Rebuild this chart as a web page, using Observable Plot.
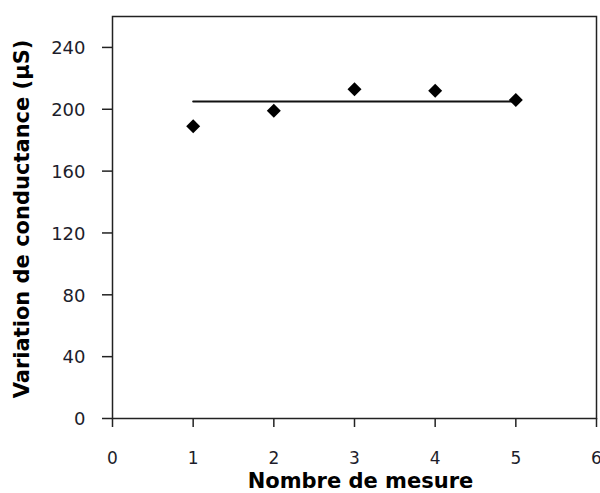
<!DOCTYPE html>
<html>
<head>
<meta charset="utf-8">
<script src="https://cdn.jsdelivr.net/npm/d3@7"></script>
<script src="https://cdn.jsdelivr.net/npm/@observablehq/plot@0.6"></script>
<style>
  html, body { margin: 0; padding: 0; background: #fff; }
  #chart svg { display: block; }
</style>
</head>
<body>
<div id="chart"></div>
<script>
const measures = [1, 2, 3, 4, 5];
const conductance = [189, 199, 213, 212, 206];
const meanX = [1, 5];
const meanY = [205, 205];
const xTicks = [0, 1, 2, 3, 4, 5, 6];
const yTicks = [0, 40, 80, 120, 160, 200, 240];
const xTitle = "Nombre de mesure";
const yTitle = "Variation de conductance (µS)";

const points = measures.map((m, i) => ({m, v: conductance[i]}));
const meanLine = meanX.map((m, i) => ({m, v: meanY[i]}));

const chart = Plot.plot({
  width: 600,
  height: 493,
  marginLeft: 112,
  marginTop: 16,
  marginRight: 4,
  marginBottom: 75,
  style: {fontFamily: "DejaVu Sans, sans-serif", background: "#fff", color: "#1d1d2b"},
  x: {domain: [0, 6], axis: null},
  y: {domain: [0, 260], axis: null},
  marks: [
    Plot.axisX({ticks: xTicks, tickSize: 9, tickFormat: () => "", label: null, stroke: "#222", strokeWidth: 1.5}),
    Plot.axisY({ticks: yTicks, tickSize: 10, tickFormat: () => "", label: null, stroke: "#222", strokeWidth: 1.5}),
    Plot.frame({stroke: "#222", strokeWidth: 1.5}),
    Plot.text(xTicks, {x: d => d, frameAnchor: "bottom", dy: 40, text: d => String(d), fontSize: 17, fill: "#1d1d2b", lineAnchor: "middle"}),
    Plot.text(yTicks, {y: d => d, frameAnchor: "left", dx: -27, dy: 1, textAnchor: "end", text: d => String(d), fontSize: 18, fill: "#1d1d2b"}),
    Plot.line(meanLine, {x: "m", y: "v", stroke: "#111", strokeWidth: 2}),
    Plot.dot(points, {x: "m", y: "v", symbol: "diamond2", r: 6.3, fill: "#000", stroke: "none"}),
    Plot.text([xTitle], {frameAnchor: "bottom", textAnchor: "middle", dx: 6, dy: 69, fontSize: 21, fontWeight: "bold", fill: "#000"}),
    Plot.text([yTitle], {frameAnchor: "left", textAnchor: "middle", dx: -90, dy: 1.5, rotate: -90, fontSize: 21, fontWeight: "bold", fill: "#000"})
  ]
});
document.getElementById("chart").appendChild(chart);
</script>
</body>
</html>
